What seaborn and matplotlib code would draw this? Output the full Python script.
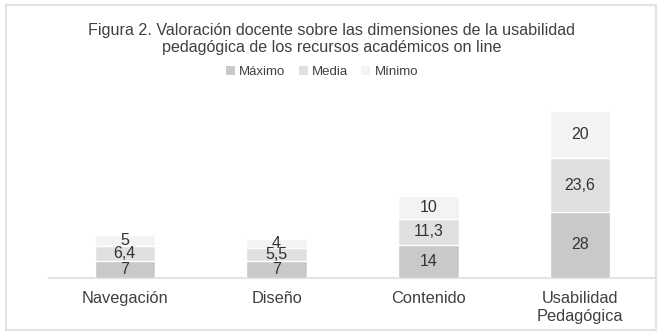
import matplotlib
matplotlib.use("Agg")
import matplotlib.pyplot as plt
import seaborn as sns
import pandas as pd
from matplotlib.patches import Rectangle, Patch

categories = ["Navegación", "Diseño", "Contenido", "Usabilidad\nPedagógica"]
maximo = [7, 7, 14, 28]
media = [6.4, 5.5, 11.3, 23.6]
minimo = [5, 4, 10, 20]
series_names = ["Máximo", "Media", "Mínimo"]
colors = ["#c9c9c9", "#e0e0e0", "#f3f3f3"]

sns.set_theme(style="white")
plt.rcParams['font.family'] = ['Liberation Sans', 'DejaVu Sans']

fig = plt.figure(figsize=(6.7, 3.33), dpi=100)
fig.patch.set_facecolor("white")
# outer border
fig.patches.append(Rectangle((6/670, 3/333), 650/670, 325/333, transform=fig.transFigure,
                             fill=False, edgecolor="#e2e2e2", linewidth=1.5))

ax = fig.add_axes([49/670, (333-277.5)/333, (656-49)/670, (277.5-95)/333])

df = pd.DataFrame({"cat": categories, "Máximo": maximo, "Media": media, "Mínimo": minimo})
bottoms = [0] * len(categories)
for name, col in zip(series_names, colors):
    vals = df[name].tolist()
    sns.barplot(x=df["cat"], y=[b + v for b, v in zip(bottoms, vals)], color=col,
                width=0.4, ax=ax, zorder=3 - series_names.index(name), saturation=1)
    bottoms = [b + v for b, v in zip(bottoms, vals)]

# label values
cum = [0] * len(categories)
for name in series_names:
    vals = df[name].tolist()
    for i, v in enumerate(vals):
        ax.text(i, cum[i] + v / 2, f"{v:g}".replace(".", ","), ha="center", va="center",
                fontsize=11.5, color="#333333", zorder=10)
        cum[i] += v

ax.set_ylim(0, 78.6)
ax.set_xlim(-0.5, 3.5)
ax.set_xlabel("")
ax.set_ylabel("")
ax.set_yticks([])
for s in ["top", "right", "left"]:
    ax.spines[s].set_visible(False)
ax.spines["bottom"].set_color("#e3e3e3")
ax.spines["bottom"].set_linewidth(1.5)
ax.tick_params(axis="x", length=0, pad=10, labelsize=11.8, labelcolor="#404040")

fig.text(332/670, 1 - 39/333, "Figura 2. Valoración docente sobre las dimensiones de la usabilidad\npedagógica de los recursos académicos on line",
         ha="center", va="center", fontsize=11.6, color="#404040", linespacing=1.22)

handles = [Patch(facecolor=c, edgecolor="none") for c in colors]
fig.legend(handles, series_names, loc="center", bbox_to_anchor=(322/670, 1 - 72/333), ncol=3,
           frameon=False, fontsize=9.5, handlelength=0.7, handleheight=0.7, handletextpad=0.3,
           columnspacing=1.0, labelcolor="#404040")

fig.savefig("out.png", dpi=100, facecolor="white")
